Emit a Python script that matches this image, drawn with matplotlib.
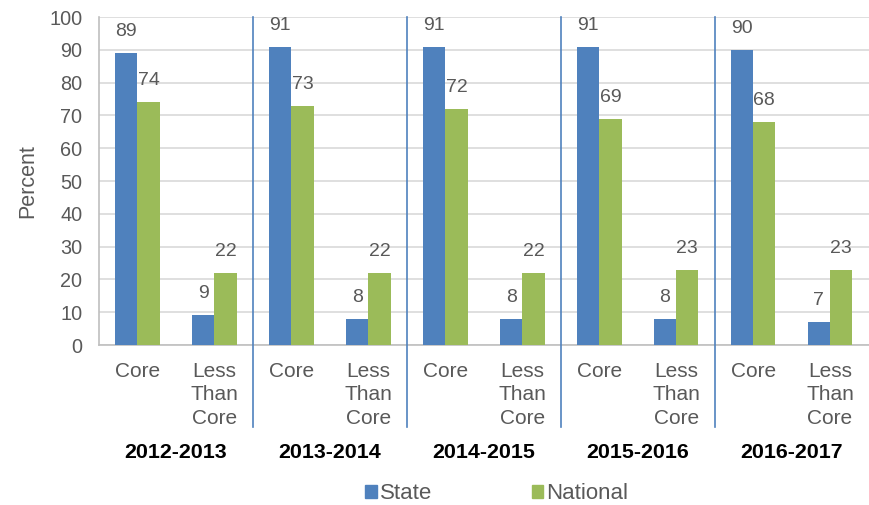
import numpy as np
import matplotlib.pyplot as plt
from matplotlib.patches import Patch

years = ['2012-2013', '2013-2014', '2014-2015', '2015-2016', '2016-2017']
categories = ['Core', 'Less\nThan\nCore']
state = [89, 9, 91, 8, 91, 8, 91, 8, 90, 7]
national = [74, 22, 73, 22, 72, 22, 69, 23, 68, 23]

blue = '#4F81BD'
green = '#9BBB59'
gray = '#595959'

plt.rcParams['font.family'] = ['Liberation Sans', 'DejaVu Sans']

fig = plt.figure(figsize=(8.7, 5.05), dpi=100)
ax = fig.add_axes([0.1138, 0.3168, 0.8845, 0.6495])

x = np.arange(len(state))
w = 0.29
b1 = ax.bar(x - w / 2, state, w, color=blue, zorder=3)
b2 = ax.bar(x + w / 2, national, w, color=green, zorder=3)

for bars in (b1, b2):
    for rect in bars:
        h = rect.get_height()
        ax.annotate(f'{h:.0f}', (rect.get_x() + rect.get_width() / 2, h),
                    xytext=(0, 15.5), textcoords='offset points',
                    ha='center', va='center', fontsize=14, color=gray)

ax.set_ylim(0, 100)
ax.set_xlim(-0.5, len(state) - 0.5)
ax.set_yticks(range(0, 101, 10))
ax.yaxis.grid(True, color='#D9D9D9', linewidth=1.2, zorder=0)
ax.tick_params(axis='y', length=0, labelsize=14.3, labelcolor=gray, pad=12)
ax.set_xticks(x)
ax.set_xticklabels(categories * len(years), va='top', linespacing=1.32)
ax.tick_params(axis='x', length=0, labelsize=15, labelcolor=gray, pad=12)
for s in ['top', 'right']:
    ax.spines[s].set_visible(False)
for s in ['left', 'bottom']:
    ax.spines[s].set_color('#BFBFBF')
    ax.spines[s].set_linewidth(1.2)

ax.set_ylabel('Percent', fontsize=15.5, color=gray, labelpad=8)

trans = ax.get_xaxis_transform()
for i in range(1, len(years)):
    ax.plot([2 * i - 0.5, 2 * i - 0.5], [1.0, -0.25], transform=trans,
            color=blue, linewidth=1.2, clip_on=False, zorder=4)
for i, yr in enumerate(years):
    ax.text(2 * i + 0.5, -0.327, yr, transform=trans, ha='center', va='center',
            fontsize=15.4, fontweight='bold', color='black')

handles = [Patch(color=blue, label='State'), Patch(color=green, label='National')]
fig.legend(handles=handles, loc='center', bbox_to_anchor=(0.571, 0.022), ncol=2,
           frameon=False, fontsize=16, labelcolor=gray, handlelength=0.5,
           handleheight=0.5, handletextpad=0.14, columnspacing=4.5)

fig.savefig('out.png', dpi=100)
